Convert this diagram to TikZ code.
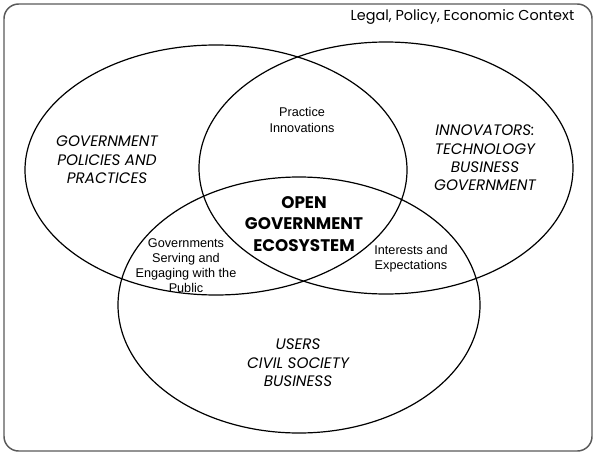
\documentclass[tikz,border=0pt]{standalone}
\usepackage{fontspec}
\setmainfont{Liberation Sans}
\newfontfamily\gothicfont{Poppins}

\begin{document}
\begin{tikzpicture}[x=0.75pt,y=-0.75pt,
    ring/.style={black,line width=0.9pt},
    actor/.style={font={\gothicfont\itshape\fontsize{11.4}{13.8}\selectfont},
        align=center},
    core/.style={font={\gothicfont\bfseries\fontsize{12.6}{16}\selectfont},
        align=center},
    overlap/.style={font={\fontsize{9.5}{11.3}\selectfont},align=center},
    ]
    \useasboundingbox (0,0) rectangle (595,453);
    % Context frame
    \draw[gray!70!black,line width=1.1pt,rounded corners=11pt]
         (4,4) rectangle (592,451);
    \node[anchor=base east,font={\gothicfont\fontsize{10.8}{12}\selectfont}]
         (context) at (579,21) {Legal, Policy, Economic Context};
    % Government circle
    \draw[ring] (216,170) ellipse [x radius=191, y radius=125];
    % Innovators circle
    \draw[ring] (386,168) ellipse [x radius=187, y radius=126];
    % Users circle
    \draw[ring] (299,305) ellipse [x radius=181, y radius=128];
    % Circle names
    \node[actor] (government) at (107,160)
         {GOVERNMENT\\POLICIES AND\\PRACTICES};
    \node[actor] (innovators) at (485,158)
         {INNOVATORS:\\TECHNOLOGY\\BUSINESS\\GOVERNMENT};
    \node[actor] (users) at (298,363) {USERS\\CIVIL SOCIETY\\BUSINESS};
    % Overlaps
    \node[overlap] (practice) at (302,120) {Practice\\Innovations};
    \node[overlap] (serving) at (186,266)
         {Governments\\Serving and\\Engaging with the\\Public};
    \node[overlap] (interests) at (411,259) {Interests and\\Expectations};
    % Centre
    \node[core] (ecosystem) at (304,224) {OPEN\\GOVERNMENT\\ECOSYSTEM};
\end{tikzpicture}
\end{document}
